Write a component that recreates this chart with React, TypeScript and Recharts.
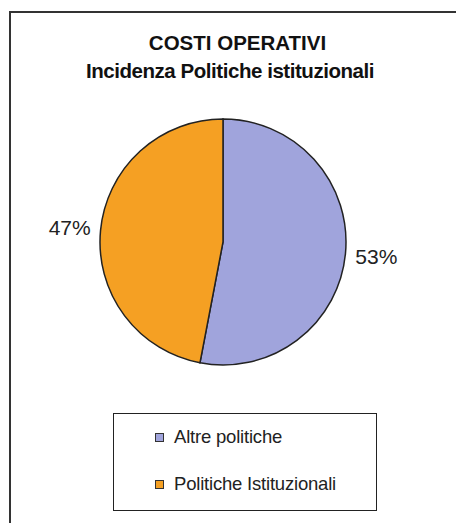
import React from 'react';
import { PieChart, Pie, Cell, Legend } from 'recharts';

const categories = ['Altre politiche', 'Politiche Istituzionali'];
const values = [53, 47];
const colors = ['#A0A4DC', '#F5A023'];
const titleLines = ['COSTI OPERATIVI', 'Incidenza Politiche istituzionali'];

const data = categories.map((name, i) => ({ name, value: values[i] }));

const RAD = Math.PI / 180;

const renderLabel = (props: any) => {
  const { cx, cy, midAngle, outerRadius, value } = props;
  const r = outerRadius + 31;
  const x = cx + r * Math.cos(-midAngle * RAD);
  const y = cy + r * Math.sin(-midAngle * RAD);
  return (
    <text
      x={x}
      y={y}
      textAnchor="middle"
      dominantBaseline="central"
      fontFamily="Liberation Sans, Arial, sans-serif"
      fontSize={21}
      fill="#222"
    >
      {value}%
    </text>
  );
};

const LegendContent = () => (
  <div
    style={{
      width: 264,
      height: 98,
      border: '1.5px solid #222',
      boxSizing: 'border-box',
      background: '#fff',
      fontFamily: 'Liberation Sans, Arial, sans-serif',
      fontSize: 18.5,
      color: '#222',
      paddingTop: 11,
      paddingLeft: 41,
    }}
  >
    {data.map((d, i) => (
      <div key={d.name} style={{ display: 'flex', alignItems: 'center', height: 24, marginBottom: i === 0 ? 23 : 0 }}>
        <span
          style={{
            display: 'inline-block',
            width: 7,
            height: 7,
            background: colors[i],
            border: '1px solid #333',
            marginRight: 10,
          }}
        />
        <span style={{ letterSpacing: -0.2 }}>{d.name}</span>
      </div>
    ))}
  </div>
);

export default function App() {
  return (
    <div style={{ position: 'fixed', left: 0, top: 0, width: 456, height: 523, background: '#fff', overflow: 'hidden' }}>
      <div
        style={{
          position: 'absolute',
          left: 9,
          top: 11,
          width: 460,
          height: 530,
          borderTop: '2px solid #333',
          borderLeft: '2px solid #333',
          boxSizing: 'border-box',
        }}
      />
      <div
        style={{
          position: 'absolute',
          left: 0,
          top: 29,
          width: 460,
          textAlign: 'center',
          fontFamily: 'Liberation Sans, Arial, sans-serif',
          fontWeight: 'bold',
          fontSize: 20.5,
          lineHeight: '28px',
          color: '#111',
        }}
      >
        <div style={{ paddingLeft: 15 }}>{titleLines[0]}</div>
        <div style={{ letterSpacing: -0.45 }}>{titleLines[1]}</div>
      </div>
      <div style={{ position: 'absolute', left: 0, top: 0 }}>
        <PieChart width={456} height={523} margin={{ top: 0, right: 0, bottom: 0, left: 0 }}>
          <Pie
            data={data}
            dataKey="value"
            nameKey="name"
            cx={223}
            cy={242}
            outerRadius={123}
            startAngle={90}
            endAngle={-270}
            stroke="#222"
            strokeWidth={1.5}
            label={renderLabel}
            labelLine={false}
            isAnimationActive={false}
          >
            {data.map((d, i) => (
              <Cell key={d.name} fill={colors[i]} />
            ))}
          </Pie>
          <Legend
            content={<LegendContent />}
            wrapperStyle={{ position: 'absolute', left: 113, top: 413, width: 264, height: 98 }}
          />
        </PieChart>
      </div>
    </div>
  );
}
